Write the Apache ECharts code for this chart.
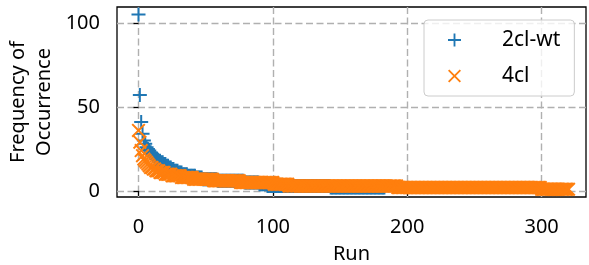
<!DOCTYPE html>
<html>
<head>
<meta charset="utf-8">
<script src="https://cdn.jsdelivr.net/npm/echarts@6/dist/echarts.min.js"></script>
<style>
  html, body { margin: 0; padding: 0; background: #fff; }
  #chart { width: 589px; height: 265px; }
</style>
</head>
<body>
<div id="chart"></div>
<script>
// frequency of occurrence per run, sorted
var wt2cl = [
  105, 57, 41, 34, 30, 28, 26, 25, 24, 23, 22, 21, 20, 19, 19, 18, 18, 17, 17, 16,
  16, 15, 15, 14, 14, 13, 13, 12, 12, 12, 11, 11, 11,
  10, 10, 10, 10,
  9, 9, 9, 9, 9, 9,
  8, 8, 8, 8, 8,
  7, 7, 7, 7, 7, 7, 7, 7, 7, 7, 7,
  6, 6, 6, 6, 6, 6, 6, 6, 6, 6, 6, 6, 6, 6, 6, 6, 6, 6, 6, 6,
  5, 5, 5, 5, 5, 5, 5, 5, 5, 5, 5,
  4, 4, 4, 4, 4, 4,
  3, 3, 3, 3, 3, 3, 3, 3, 3, 3, 3, 3, 3, 3, 3, 3, 3, 3, 3, 3,
  3, 3, 3, 3, 3, 3, 3, 3, 3, 3, 3, 3, 3, 3, 3, 3, 3, 3, 3, 3,
  3, 3, 3, 3, 3, 3, 3,
  2, 2, 2, 2, 2, 2, 2, 2, 2, 2, 2, 2, 2, 2, 2, 2, 2, 2, 2, 2,
  2, 2, 2, 2, 2, 2, 2, 2, 2, 2, 2, 2, 2, 2, 2, 2, 2, 2, 2, 2,
  2
]
var cl4 = [
  36, 29, 24, 21, 19, 18, 17, 16, 15, 14, 14, 13, 13, 12, 12, 12, 11, 11, 11, 11,
  10, 10, 10, 10, 10,
  9, 9, 9, 9, 9, 9, 9,
  8, 8, 8, 8, 8, 8, 8, 8, 8,
  7, 7, 7, 7, 7, 7, 7, 7, 7, 7, 7, 7, 7, 7, 7,
  6, 6, 6, 6, 6, 6, 6, 6, 6, 6, 6, 6, 6, 6, 6, 6, 6, 6, 6, 6,
  5, 5, 5, 5, 5, 5, 5, 5, 5, 5, 5, 5, 5, 5, 5, 5, 5, 5, 5, 5,
  5, 5, 5, 5, 5,
  4, 4, 4, 4, 4, 4, 4, 4, 4, 4, 4,
  3, 3, 3, 3, 3, 3, 3, 3, 3, 3, 3, 3, 3, 3, 3, 3, 3, 3, 3, 3,
  3, 3, 3, 3, 3, 3, 3, 3, 3, 3, 3, 3, 3, 3, 3, 3, 3, 3, 3, 3,
  3, 3, 3, 3, 3, 3, 3, 3, 3, 3, 3, 3, 3, 3, 3, 3, 3, 3, 3, 3,
  3, 3, 3, 3, 3, 3, 3, 3, 3, 3, 3, 3, 3, 3, 3, 3, 3, 3, 3, 3,
  3,
  2, 2, 2, 2, 2, 2, 2, 2, 2, 2, 2, 2, 2, 2, 2, 2, 2, 2, 2, 2,
  2, 2, 2, 2, 2, 2, 2, 2, 2, 2, 2, 2, 2, 2, 2, 2, 2, 2, 2, 2,
  2, 2, 2, 2, 2, 2, 2, 2, 2, 2, 2, 2, 2, 2, 2, 2, 2, 2, 2, 2,
  2, 2, 2, 2, 2, 2, 2, 2, 2, 2, 2, 2, 2, 2, 2, 2, 2, 2, 2, 2,
  2, 2, 2, 2, 2, 2, 2, 2, 2, 2, 2, 2, 2, 2, 2, 2, 2, 2, 2, 2,
  2, 2, 2, 2, 2, 2, 2,
  1, 1, 1, 1, 1, 1, 1, 1, 1, 1, 1, 1, 1, 1, 1, 1, 1, 1, 1, 1,
  1
]
var seriesNames = ['2cl-wt', '4cl']
var xTicks = [0, 100, 200, 300]
var yTicks = [0, 50, 100]

var chart = echarts.init(document.getElementById('chart'), null, { renderer: 'canvas' })

// matplotlib style markers, filled outlines
var plusPath = 'path://M6,0H8V6H14V8H8V14H6V8H0V6H6Z'
var crossPath = 'path://M-7,-5.6L-5.6,-7L0,-1.4L5.6,-7L7,-5.6L1.4,0L7,5.6L5.6,7L0,1.4L-5.6,7L-7,5.6L-1.4,0Z'

function toPoints(arr) {
  return arr.map(function (v, i) { return [i, v] })
}

var font = 'Noto Sans'
var txt = { fontFamily: font, fontSize: 20, color: '#000' }
var gridLine = { show: true, lineStyle: { color: '#b0b0b0', width: 1.4, type: [7, 3.5] } }

var option = {
  animation: false,
  backgroundColor: '#fff',
  grid: {
    left: 117, top: 7, right: 3, bottom: 68,
    outerBoundsMode: 'none', containLabel: false,
    show: true, borderColor: '#000', borderWidth: 1.3, backgroundColor: 'transparent'
  },
  legend: {
    orient: 'vertical',
    left: 424, top: 20,
    padding: [8, 14, 8, 24],
    itemWidth: 13, itemHeight: 13, itemGap: 12,
    backgroundColor: 'rgba(255,255,255,0.8)',
    borderColor: '#cccccc', borderWidth: 1, borderRadius: 4,
    textStyle: { fontFamily: font, fontSize: 21, color: '#000', lineHeight: 24, padding: [0, 0, 0, 36] },
    data: seriesNames
  },
  xAxis: {
    type: 'value',
    min: -16, max: 333,
    name: 'Run', nameLocation: 'middle', nameGap: 47, nameMoveOverlap: false,
    nameTextStyle: txt,
    axisLine: { show: false },
    axisTick: { show: true, length: 5, lineStyle: { color: '#000', width: 1.3 }, customValues: xTicks },
    axisLabel: Object.assign({ margin: 20, customValues: xTicks }, txt),
    splitLine: gridLine
  },
  yAxis: {
    type: 'value',
    min: -3.6, max: 109.4,
    name: 'Frequency of\nOccurrence', nameLocation: 'middle', nameRotate: 90, nameGap: 60, nameMoveOverlap: false,
    nameTextStyle: Object.assign({}, txt, { lineHeight: 26 }),
    axisLine: { show: false },
    axisTick: { show: true, length: 5, lineStyle: { color: '#000', width: 1.3 }, customValues: yTicks },
    axisLabel: Object.assign({ margin: 17, customValues: yTicks }, txt),
    splitLine: gridLine
  },
  series: [
    {
      name: seriesNames[0], type: 'scatter',
      symbol: plusPath, symbolSize: 14,
      itemStyle: { color: '#1f77b4', opacity: 1 },
      data: toPoints(wt2cl)
    },
    {
      name: seriesNames[1], type: 'scatter',
      symbol: crossPath, symbolSize: 14,
      itemStyle: { color: '#ff7f0e', opacity: 1 },
      data: toPoints(cl4)
    }
  ]
}
chart.setOption(option)
</script>
</body>
</html>
